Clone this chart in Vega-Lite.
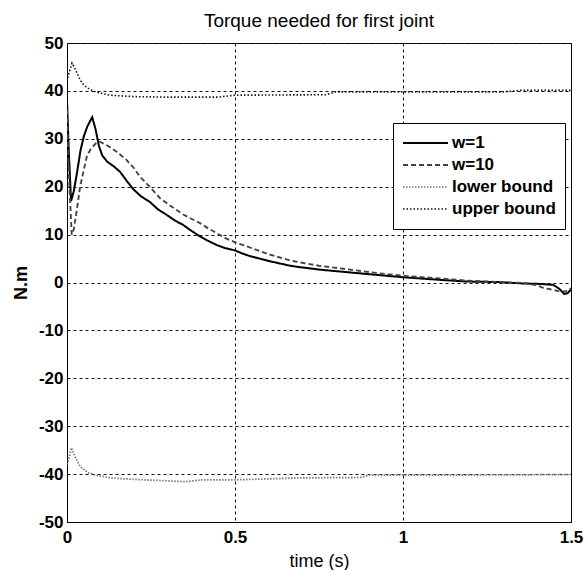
{
  "$schema": "https://vega.github.io/schema/vega-lite/v6.json",
  "width": 504,
  "height": 479,
  "autosize": {"type": "none"},
  "padding": {"left": 67, "top": 43, "right": 14, "bottom": 48},
  "background": "white",
  "title": {"text": "Torque needed for first joint", "fontSize": 19, "fontWeight": "normal", "font": "Liberation Sans", "color": "black", "offset": 3, "anchor": "middle"},
  "config": {
    "view": {"stroke": "black", "strokeWidth": 1},
    "axis": {"labelFont": "Liberation Sans", "titleFont": "Liberation Sans", "labelColor": "black", "titleColor": "black", "domainColor": "black", "ticks": false, "gridColor": "#111", "gridDash": [3, 3], "gridOpacity": 1, "gridWidth": 1}
  },
  "data": {"values": [
    {"t": 0, "v": 38, "s": "w=1"}, {"t": 0.005, "v": 28, "s": "w=1"}, {"t": 0.012, "v": 17, "s": "w=1"}, {"t": 0.02, "v": 19, "s": "w=1"}, {"t": 0.03, "v": 23, "s": "w=1"}, {"t": 0.04, "v": 27.5, "s": "w=1"}, {"t": 0.05, "v": 30.5, "s": "w=1"}, {"t": 0.06, "v": 32.5, "s": "w=1"}, {"t": 0.075, "v": 34.5, "s": "w=1"}, {"t": 0.085, "v": 32, "s": "w=1"}, {"t": 0.095, "v": 28.5, "s": "w=1"}, {"t": 0.105, "v": 26.5, "s": "w=1"}, {"t": 0.12, "v": 25.2, "s": "w=1"}, {"t": 0.14, "v": 24.2, "s": "w=1"}, {"t": 0.158, "v": 23.1, "s": "w=1"}, {"t": 0.18, "v": 21, "s": "w=1"}, {"t": 0.197, "v": 19.5, "s": "w=1"}, {"t": 0.22, "v": 18, "s": "w=1"}, {"t": 0.247, "v": 16.8, "s": "w=1"}, {"t": 0.27, "v": 15.3, "s": "w=1"}, {"t": 0.297, "v": 14.1, "s": "w=1"}, {"t": 0.32, "v": 13, "s": "w=1"}, {"t": 0.346, "v": 12, "s": "w=1"}, {"t": 0.37, "v": 10.8, "s": "w=1"}, {"t": 0.396, "v": 9.6, "s": "w=1"}, {"t": 0.42, "v": 8.7, "s": "w=1"}, {"t": 0.446, "v": 7.8, "s": "w=1"}, {"t": 0.47, "v": 7.2, "s": "w=1"}, {"t": 0.5, "v": 6.7, "s": "w=1"}, {"t": 0.52, "v": 6.1, "s": "w=1"}, {"t": 0.545, "v": 5.5, "s": "w=1"}, {"t": 0.6, "v": 4.5, "s": "w=1"}, {"t": 0.664, "v": 3.5, "s": "w=1"}, {"t": 0.693, "v": 3.2, "s": "w=1"}, {"t": 0.75, "v": 2.7, "s": "w=1"}, {"t": 0.842, "v": 2.1, "s": "w=1"}, {"t": 0.92, "v": 1.6, "s": "w=1"}, {"t": 1.0, "v": 1.1, "s": "w=1"}, {"t": 1.1, "v": 0.6, "s": "w=1"}, {"t": 1.19, "v": 0.2, "s": "w=1"}, {"t": 1.28, "v": 0.1, "s": "w=1"}, {"t": 1.357, "v": -0.2, "s": "w=1"}, {"t": 1.41, "v": -0.3, "s": "w=1"}, {"t": 1.447, "v": -0.5, "s": "w=1"}, {"t": 1.465, "v": -1.3, "s": "w=1"}, {"t": 1.48, "v": -2.4, "s": "w=1"}, {"t": 1.49, "v": -2.2, "s": "w=1"}, {"t": 1.5, "v": -1.5, "s": "w=1"},

    {"t": 0, "v": 36, "s": "w=10"}, {"t": 0.006, "v": 22, "s": "w=10"}, {"t": 0.014, "v": 10, "s": "w=10"}, {"t": 0.02, "v": 11, "s": "w=10"}, {"t": 0.03, "v": 15.5, "s": "w=10"}, {"t": 0.039, "v": 20, "s": "w=10"}, {"t": 0.05, "v": 23.5, "s": "w=10"}, {"t": 0.059, "v": 26.3, "s": "w=10"}, {"t": 0.07, "v": 27.8, "s": "w=10"}, {"t": 0.085, "v": 29, "s": "w=10"}, {"t": 0.098, "v": 29.4, "s": "w=10"}, {"t": 0.12, "v": 28.6, "s": "w=10"}, {"t": 0.148, "v": 27.3, "s": "w=10"}, {"t": 0.177, "v": 25.6, "s": "w=10"}, {"t": 0.2, "v": 23.8, "s": "w=10"}, {"t": 0.217, "v": 22.1, "s": "w=10"}, {"t": 0.25, "v": 19.7, "s": "w=10"}, {"t": 0.277, "v": 17.6, "s": "w=10"}, {"t": 0.31, "v": 15.9, "s": "w=10"}, {"t": 0.346, "v": 14.2, "s": "w=10"}, {"t": 0.37, "v": 13.3, "s": "w=10"}, {"t": 0.396, "v": 12.4, "s": "w=10"}, {"t": 0.42, "v": 11.3, "s": "w=10"}, {"t": 0.446, "v": 10.3, "s": "w=10"}, {"t": 0.47, "v": 9.3, "s": "w=10"}, {"t": 0.5, "v": 8.4, "s": "w=10"}, {"t": 0.545, "v": 7.3, "s": "w=10"}, {"t": 0.6, "v": 5.9, "s": "w=10"}, {"t": 0.664, "v": 4.6, "s": "w=10"}, {"t": 0.693, "v": 4.2, "s": "w=10"}, {"t": 0.75, "v": 3.5, "s": "w=10"}, {"t": 0.842, "v": 2.7, "s": "w=10"}, {"t": 0.92, "v": 2.0, "s": "w=10"}, {"t": 1.0, "v": 1.4, "s": "w=10"}, {"t": 1.1, "v": 0.9, "s": "w=10"}, {"t": 1.19, "v": 0.4, "s": "w=10"}, {"t": 1.28, "v": 0.1, "s": "w=10"}, {"t": 1.357, "v": -0.1, "s": "w=10"}, {"t": 1.4, "v": -0.6, "s": "w=10"}, {"t": 1.42, "v": -1.2, "s": "w=10"}, {"t": 1.445, "v": -1.5, "s": "w=10"}, {"t": 1.467, "v": -1.9, "s": "w=10"}, {"t": 1.485, "v": -1.8, "s": "w=10"}, {"t": 1.5, "v": -1.2, "s": "w=10"},

    {"t": 0, "v": -38, "s": "lower bound"}, {"t": 0.005, "v": -37, "s": "lower bound"}, {"t": 0.013, "v": -34.5, "s": "lower bound"}, {"t": 0.025, "v": -36.5, "s": "lower bound"}, {"t": 0.04, "v": -38.5, "s": "lower bound"}, {"t": 0.063, "v": -39.7, "s": "lower bound"}, {"t": 0.09, "v": -40.3, "s": "lower bound"}, {"t": 0.13, "v": -40.8, "s": "lower bound"}, {"t": 0.2, "v": -41.1, "s": "lower bound"}, {"t": 0.297, "v": -41.4, "s": "lower bound"}, {"t": 0.353, "v": -41.6, "s": "lower bound"}, {"t": 0.4, "v": -41.2, "s": "lower bound"}, {"t": 0.5, "v": -41.2, "s": "lower bound"}, {"t": 0.69, "v": -40.8, "s": "lower bound"}, {"t": 0.876, "v": -40.7, "s": "lower bound"}, {"t": 0.9, "v": -40.2, "s": "lower bound"}, {"t": 1.2, "v": -40.2, "s": "lower bound"}, {"t": 1.5, "v": -40.1, "s": "lower bound"},

    {"t": 0, "v": 42, "s": "upper bound"}, {"t": 0.005, "v": 43.5, "s": "upper bound"}, {"t": 0.015, "v": 45.8, "s": "upper bound"}, {"t": 0.025, "v": 44.5, "s": "upper bound"}, {"t": 0.039, "v": 42.3, "s": "upper bound"}, {"t": 0.05, "v": 41.2, "s": "upper bound"}, {"t": 0.068, "v": 40.3, "s": "upper bound"}, {"t": 0.09, "v": 39.7, "s": "upper bound"}, {"t": 0.128, "v": 39.1, "s": "upper bound"}, {"t": 0.2, "v": 38.8, "s": "upper bound"}, {"t": 0.3, "v": 38.7, "s": "upper bound"}, {"t": 0.45, "v": 38.7, "s": "upper bound"}, {"t": 0.5, "v": 39.1, "s": "upper bound"}, {"t": 0.77, "v": 39.2, "s": "upper bound"}, {"t": 0.8, "v": 39.8, "s": "upper bound"}, {"t": 1.3, "v": 39.8, "s": "upper bound"}, {"t": 1.35, "v": 40.1, "s": "upper bound"}, {"t": 1.5, "v": 40.1, "s": "upper bound"}
  ]},
  "mark": {"type": "line", "clip": true},
  "encoding": {
    "x": {"field": "t", "type": "quantitative", "scale": {"domain": [0, 1.5], "nice": false, "zero": false},
      "axis": {"values": [0, 0.5, 1, 1.5], "labelExpr": "datum.value + ''", "title": "time (s)", "labelFontSize": 17, "labelFontWeight": "bold", "labelPadding": 7, "titleFontSize": 18, "titleFontWeight": "normal", "titlePadding": 7, "labelFlush": false, "labelOverlap": false}},
    "y": {"field": "v", "type": "quantitative", "scale": {"domain": [-50, 50], "nice": false},
      "axis": {"values": [-50, -40, -30, -20, -10, 0, 10, 20, 30, 40, 50], "labelExpr": "datum.value + ''", "title": "N.m", "labelFontSize": 17, "labelFontWeight": "bold", "labelPadding": 4, "titleFontSize": 18, "titleFontWeight": "bold", "titlePadding": 8, "labelOverlap": false}},
    "color": {"field": "s", "type": "nominal", "title": null,
      "scale": {"domain": ["w=1", "w=10", "lower bound", "upper bound"], "range": ["#000000", "#444444", "#777777", "#111111"]},
      "legend": {"orient": "none", "legendX": 326, "legendY": 80, "symbolType": "stroke", "symbolSize": 2025, "symbolStrokeWidth": 2, "symbolOffset": 0, "labelFontSize": 17, "labelFontWeight": "bold", "labelFont": "Liberation Sans", "labelColor": "black", "strokeColor": "black", "fillColor": "white", "padding": 9, "clipHeight": 22, "rowPadding": 0, "labelOffset": 3, "labelLimit": 200}},
    "strokeDash": {"field": "s", "type": "nominal", "title": null,
      "scale": {"domain": ["w=1", "w=10", "lower bound", "upper bound"], "range": [[1, 0], [5, 3], [1.5, 1.5], [1.5, 2]]}},
    "strokeWidth": {"field": "s", "type": "nominal", "title": null, "legend": null,
      "scale": {"domain": ["w=1", "w=10", "lower bound", "upper bound"], "range": [2, 1.6, 1.5, 1.5]}}
  }
}
